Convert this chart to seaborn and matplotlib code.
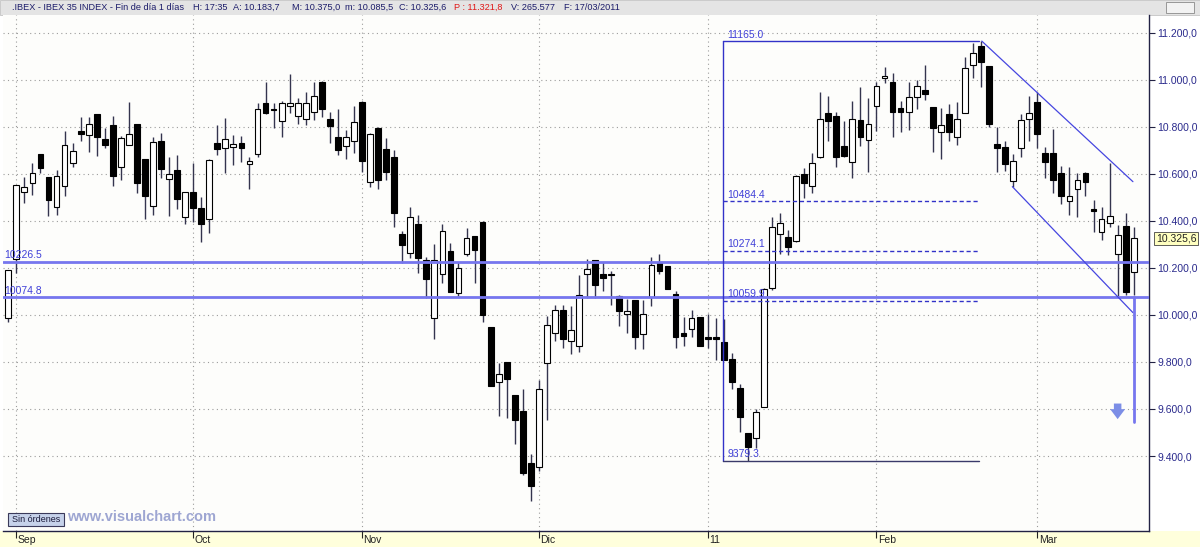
import numpy as np
import pandas as pd
import matplotlib
matplotlib.use("Agg")
import matplotlib.pyplot as plt
import matplotlib.transforms as mtrans
import seaborn as sns
from matplotlib.patches import Rectangle

# daily OHLC, IBEX 35, 31 Aug 2010 - 17 Mar 2011
opens = [9986, 10237, 10522, 10563, 10685, 10586, 10458, 10550, 10648, 10783,
         10765, 10855, 10748, 10806, 10628, 10723, 10813, 10662, 10464, 10742,
         10579, 10617, 10416, 10525, 10457, 10410, 10733, 10709, 10714, 10733,
         10643, 10685, 10903, 10875, 10827, 10889, 10847, 10834, 10865, 10993,
         10833, 10756, 10719, 10742, 10908, 10567, 10797, 10705, 10670, 10343,
         10262, 10387, 10234, 9986, 10173, 10274, 10092, 10258, 10336, 10397,
         9950, 9714, 9801, 9660, 9593, 9372, 9352, 9794, 9922, 10021,
         9891, 9870, 10173, 10234, 10175, 10173, 10081, 10003, 10064, 9920,
         10078, 10224, 10209, 10088, 9925, 9941, 9990, 9908, 9905, 9884,
         9813, 9688, 9497, 9475, 9610, 10114, 10345, 10333, 10316, 10600,
         10549, 10671, 10858, 10847, 10719, 10650, 10830, 10745, 10891, 11010,
         10989, 10882, 10863, 10929, 10958, 10884, 10777, 10854, 10756, 10858,
         11064, 11145, 11057, 10728, 10713, 10570, 10709, 10834, 10905, 10691,
         10691, 10603, 10485, 10536, 10603, 10451, 10355, 10393, 10260, 10380,
         10183.7]
highs = [10192, 10553, 10586, 10645, 10685, 10586, 10617, 10783, 10733, 10840,
         10844, 10855, 10794, 10848, 10762, 10908, 10813, 10662, 10756, 10776,
         10671, 10681, 10522, 10645, 10501, 10662, 10809, 10837, 10766, 10762,
         10674, 10901, 10989, 10903, 10912, 11025, 10922, 10950, 10993, 10997,
         10862, 10875, 10787, 10887, 10912, 10776, 10801, 10752, 10700, 10357,
         10458, 10425, 10248, 10302, 10387, 10308, 10227, 10369, 10336, 10400,
         9950, 9797, 9801, 9660, 9685, 9407, 9724, 9996, 10043, 10043,
         10036, 10171, 10237, 10234, 10227, 10189, 10085, 10067, 10064, 10064,
         10246, 10260, 10209, 10100, 9990, 10019, 9990, 10005, 9986, 9982,
         9840, 9707, 9497, 9600, 10114, 10418, 10433, 10362, 10596, 10627,
         10688, 10950, 10933, 10865, 10823, 10911, 10969, 10925, 10993, 11053,
         11028, 10911, 10993, 11000, 11064, 10884, 10879, 10898, 10908, 11096,
         11156, 11165, 11057, 10801, 10738, 10684, 10855, 10933, 10950, 10716,
         10792, 10634, 10631, 10603, 10610, 10489, 10461, 10645, 10383, 10433,
         10375.0]
lows = [9972, 10177, 10475, 10511, 10603, 10419, 10426, 10507, 10631, 10738,
        10695, 10677, 10709, 10550, 10574, 10723, 10518, 10407, 10426, 10582,
        10419, 10451, 10386, 10397, 10312, 10348, 10681, 10603, 10638, 10652,
        10535, 10671, 10855, 10794, 10759, 10861, 10813, 10806, 10830, 10844,
        10733, 10681, 10662, 10688, 10610, 10546, 10535, 10574, 10376, 10223,
        10241, 10177, 10071, 9897, 10138, 10099, 10081, 10252, 10138, 9972,
        9698, 9572, 9560, 9450, 9319, 9210, 9338, 9553, 9889, 9858,
        9833, 9842, 10071, 10071, 10102, 10043, 9951, 9925, 9856, 9856,
        10040, 10173, 10111, 9859, 9869, 9905, 9866, 9859, 9809, 9809,
        9684, 9504, 9379.3, 9433, 9610, 10106, 10260, 10253, 10309, 10497,
        10518, 10667, 10740, 10631, 10671, 10584, 10719, 10610, 10784, 10986,
        10759, 10777, 10787, 10877, 10915, 10692, 10662, 10740, 10723, 10858,
        11007, 10969, 10799, 10607, 10614, 10546, 10674, 10738, 10712, 10582,
        10518, 10471, 10426, 10418, 10504, 10355, 10319, 10373, 10082, 10085,
        10085.5]
closes = [10192, 10553, 10543, 10606, 10627, 10487, 10593, 10721, 10698, 10770,
          10811, 10758, 10723, 10593, 10752, 10770, 10563, 10506, 10736, 10621,
          10599, 10494, 10522, 10457, 10387, 10660, 10705, 10748, 10728, 10709,
          10655, 10875, 10858, 10872, 10903, 10901, 10903, 10901, 10932, 10877,
          10804, 10702, 10759, 10820, 10655, 10770, 10574, 10607, 10433, 10298,
          10416, 10241, 10153, 10234, 10357, 10099, 10199, 10329, 10277, 9999,
          9698, 9749, 9728, 9553, 9329, 9274, 9684, 9957, 10021, 9898,
          9934, 10085, 10195, 10128, 10159, 10170, 10017, 10017, 9905, 10003,
          10213, 10189, 10111, 9905, 9911, 9986, 9866, 9897, 9897, 9809,
          9713, 9568, 9440, 9589, 10109, 10376, 10393, 10288, 10592, 10563,
          10645, 10835, 10823, 10670, 10677, 10834, 10755, 10811, 10972, 11018,
          10865, 10863, 10929, 10972, 10941, 10797, 10809, 10780, 10833, 11052,
          11116, 11075, 10813, 10709, 10641, 10655, 10830, 10858, 10769, 10650,
          10574, 10506, 10504, 10575, 10567, 10443, 10409, 10423, 10341, 10099,
          10325.6]

month_labels = ["Sep", "Oct", "Nov", "Dic", "11", "Feb", "Mar"]
month_starts = [1, 23, 44, 66, 87, 108, 128]
price_ticks = list(range(9400, 11201, 200))

support_levels = [10226.5, 10074.8]
fib_high = 11165.0
fib_low = 9379.3
fib_levels = [10484.4, 10274.1, 10059.9]
fib_span = [88.9, 120.8]
channel_top = ([121.1, 139.9], [11165, 10567])
channel_low = ([124.9, 139.9], [10546, 10010])
target_low = 9545
last_close = 10325.6

header_parts = [".IBEX - IBEX 35 INDEX - Fin de día 1 días", "H: 17:35", "A: 10.183,7",
                "M: 10.375,0", "m: 10.085,5", "C: 10.325,6", "P : 11.321,8",
                "V: 265.577", "F: 17/03/2011"]
header_x = [12, 193, 233, 292, 345, 399, 454, 511, 564]


def es_num(v):
    return f"{v:,.1f}".replace(",", "X").replace(".", ",").replace("X", ".")


df = pd.DataFrame({"open": opens, "high": highs, "low": lows, "close": closes})
df["x"] = np.arange(len(df))
df["up"] = df["close"] >= df["open"]
df["bottom"] = df[["open", "close"]].min(axis=1)
df["height"] = (df["close"] - df["open"]).abs().clip(lower=4)

sns.set_theme(style="white")
plt.rcParams["font.family"] = ["Liberation Sans", "DejaVu Sans"]

W, H = 1200, 547
fig = plt.figure(figsize=(12, 5.47), dpi=100, facecolor="white")
ax = fig.add_axes([3 / W, 16 / H, 1146 / W, 516 / H])
ax.set_facecolor("#FDFDFB")

# grid
for p in price_ticks:
    ax.axhline(p, color="#9C9C9C", lw=0.8, ls=(0, (1, 3)), zorder=0)
for m in month_starts:
    ax.axvline(m, color="#9C9C9C", lw=0.8, ls=(0, (1, 3)), zorder=0)

# candles
ax.vlines(df["x"], df["low"], df["high"], color="#34344E", lw=1, zorder=2)
ax.bar(df["x"], df["height"], bottom=df["bottom"], width=0.72,
       color=np.where(df["up"], "white", "black"), edgecolor="black",
       linewidth=0.8, zorder=3)

# support lines
blue_soft = "#7676EE"
blue_dark = "#3232C8"
for lvl in support_levels:
    ax.axhline(lvl, color=blue_soft, lw=2, zorder=4)
    ax.annotate(f"{lvl:.1f}", (-0.45, lvl), xytext=(0, 1), textcoords="offset points",
                va="bottom", ha="left", fontsize=7.5, color="#4040D8", zorder=5)

# fibonacci box
x0, x1 = fib_span
ax.plot([x0, x0], [fib_low, fib_high], color=blue_dark, lw=1, zorder=4)
ax.plot([x0, x1], [fib_high, fib_high], color=blue_dark, lw=1, zorder=4)
ax.plot([x0, x1], [fib_low, fib_low], color="#3A3A6A", lw=1, zorder=4)
for lvl in fib_levels:
    ax.plot([x0, x1], [lvl, lvl], color=blue_dark, lw=1, ls=(0, (3, 2)), zorder=4)
for lvl in [fib_high] + fib_levels + [fib_low]:
    ax.annotate(f"{lvl:.1f}", (x0, lvl), xytext=(3, 1), textcoords="offset points",
                va="bottom", ha="left", fontsize=7.5, color="#4040D8", zorder=5)

# channel
ax.plot(*channel_top, color="#4646E0", lw=0.9, zorder=4)
ax.plot(*channel_low, color="#4646E0", lw=0.9, zorder=4)

# projected target
last_x = df["x"].iloc[-1]
ax.plot([last_x, last_x], [support_levels[1], target_low], color=blue_soft, lw=2, zorder=4)
ax.annotate("", xy=(last_x - 2, target_low), xytext=(last_x - 2, target_low + 90),
            arrowprops=dict(arrowstyle="simple,head_width=0.9,head_length=0.6,tail_width=0.45",
                            color="#7C8EE6", lw=0), zorder=5)

ax.set_xlim(-0.66, 141.9)
ax.set_ylim(9081, 11276)

# axes
ax.yaxis.tick_right()
ax.set_yticks(price_ticks)
ax.set_yticklabels([es_num(p) for p in price_ticks])
ax.tick_params(axis="y", length=4, width=0.8, direction="out", color="#222244",
               labelsize=7.5, labelcolor="#2A2A8C", pad=2, right=True, left=False)
ax.set_xticks(month_starts)
ax.set_xticklabels(month_labels)
ax.tick_params(axis="x", length=5, width=0.8, direction="out", color="#222222",
               labelsize=7.5, labelcolor="#222222", pad=-2.4, bottom=True)
shift = mtrans.ScaledTranslation(1.5 / 100, 0, fig.dpi_scale_trans)
for lab in ax.get_xticklabels():
    lab.set_ha("left")
    lab.set_transform(lab.get_transform() + shift)
for side in ["top", "left"]:
    ax.spines[side].set_visible(False)
for side in ["right", "bottom"]:
    ax.spines[side].set_color("#222244")
    ax.spines[side].set_linewidth(1)

# last price tag
ax.annotate(es_num(last_close), xy=(1, last_close), xycoords=("axes fraction", "data"),
            xytext=(5, 0), textcoords="offset points", va="center", ha="left",
            fontsize=7.5, color="#222222", annotation_clip=False,
            bbox=dict(boxstyle="square,pad=0.15", fc="#FFFFC0", ec="#444444", lw=0.6))

# frame pieces: bottom strip, header bar
fig.patches.append(Rectangle((0, 0), 1, 16 / H, transform=fig.transFigure,
                             fc="#FFFFDC", ec="none", zorder=-1))
fig.patches.append(Rectangle((0, 1 - 14.5 / H), 1, 14.5 / H, transform=fig.transFigure,
                             fc="#E4E4E4", ec="#C4C4C4", lw=0.6, zorder=-1))
fig.patches.append(Rectangle((1166 / W, 1 - 13 / H), 28 / W, 11 / H, transform=fig.transFigure,
                             fc="#F2F2F2", ec="#8A8A8A", lw=0.6))

hdr_y = 1 - 7.5 / H
for txt, hx in zip(header_parts, header_x):
    col = "#E01818" if txt.startswith("P") else "#1C1C6A"
    fig.text(hx / W, hdr_y, txt, fontsize=6.6, color=col, va="center")

# footer widgets
fig.patches.append(Rectangle((8 / W, 21 / H), 56 / W, 13 / H, transform=fig.transFigure,
                             fc="#C6D2EA", ec="#3A3A5A", lw=0.8))
fig.text(36 / W, 27.5 / H, "Sin órdenes", fontsize=6.5, color="#1A1A3A", ha="center", va="center")
fig.text(67 / W, 30 / H, "www.visualchart.com", fontsize=10.5, weight="bold",
         color="#9EA6D2", ha="left", va="center")

fig.savefig("out.png", dpi=100, facecolor=fig.get_facecolor())
